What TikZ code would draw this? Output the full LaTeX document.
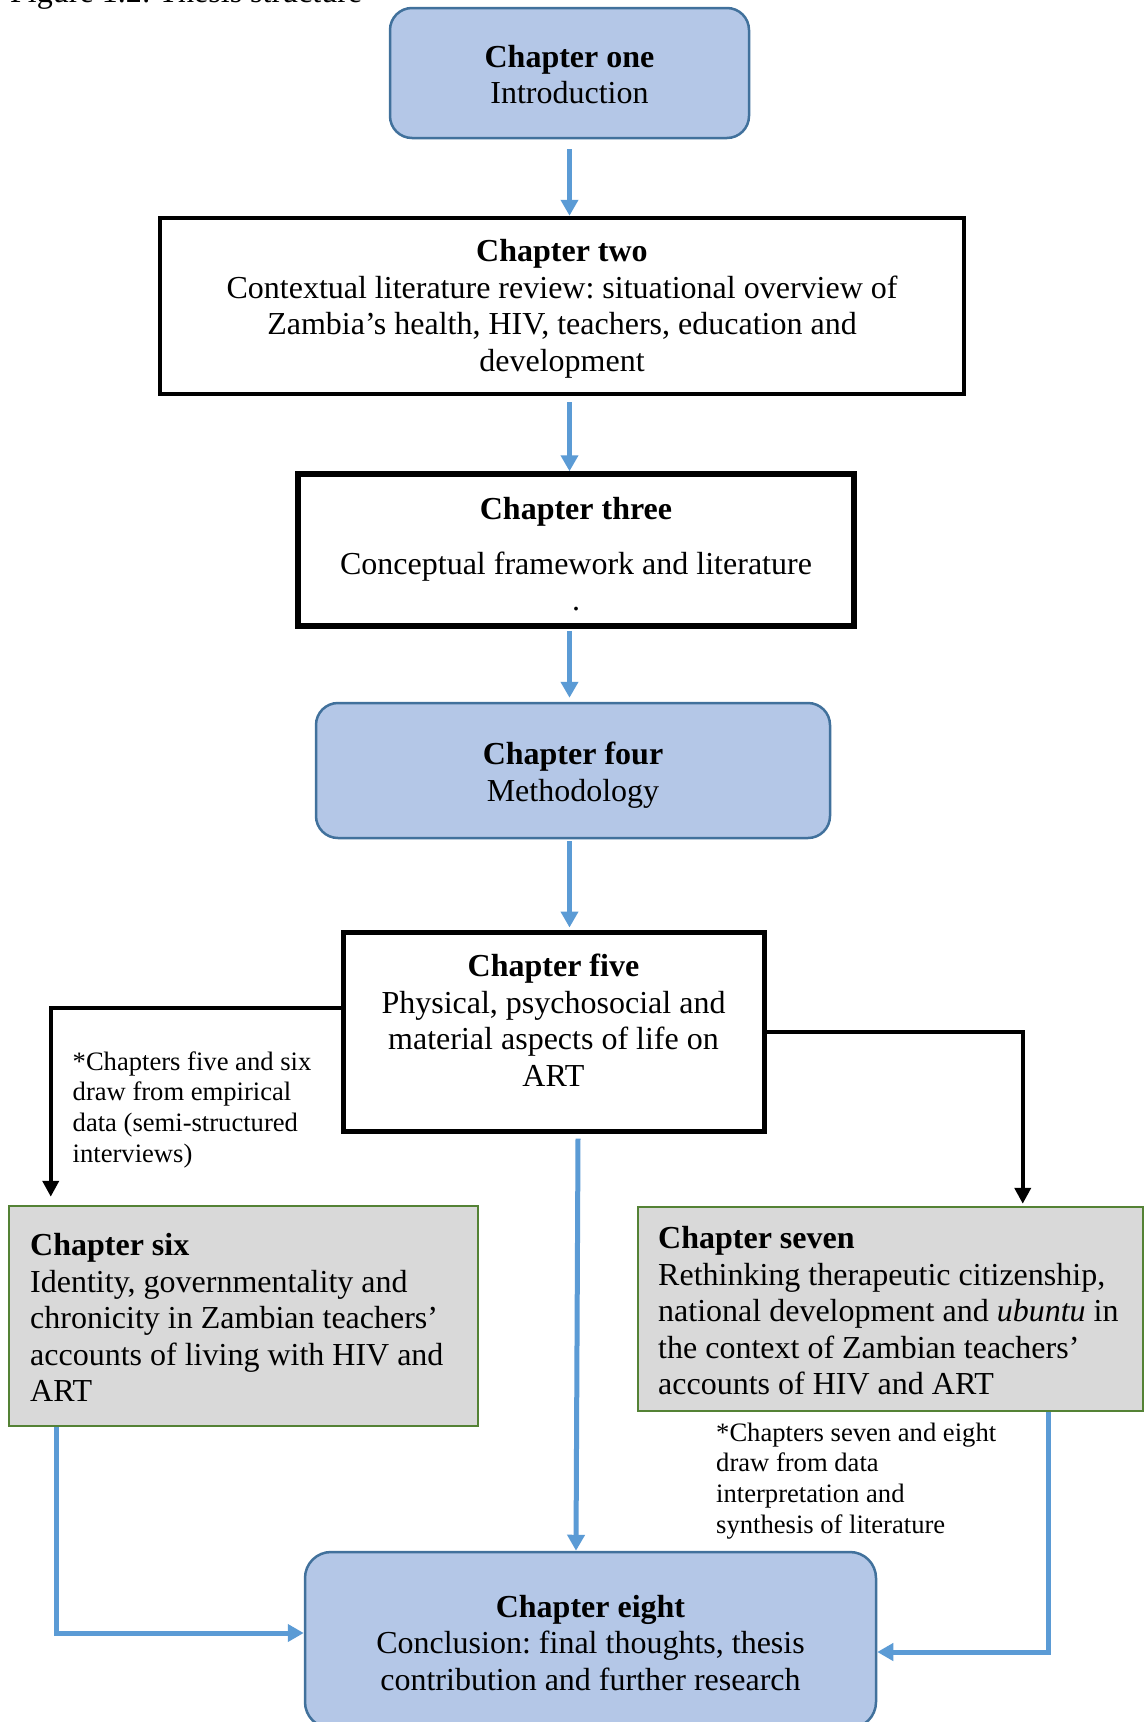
\documentclass[tikz,border=0pt]{standalone}
\usepackage{fontspec}
\setmainfont{Liberation Serif}
\usetikzlibrary{arrows.meta,calc}
\definecolor{boxblue}{HTML}{B4C7E7}
\definecolor{boxblueline}{HTML}{41719C}
\definecolor{arrowblue}{HTML}{5B9BD5}
\definecolor{boxgrey}{HTML}{D9D9D9}
\definecolor{boxgreen}{HTML}{548235}
\newcommand\chfont{\fontsize{32}{36.5}\selectfont}
\newcommand\notefont{\fontsize{26.6}{30.6}\selectfont}
\frenchspacing
\tikzset{
  roundbox/.style={draw=boxblueline, fill=boxblue, line width=2.5pt, rounded corners=22pt, inner sep=0pt},
  blackbox/.style={draw=black, fill=white, line width=5pt, inner sep=0pt},
  greybox/.style={draw=boxgreen, fill=boxgrey, line width=2.5pt, inner sep=0pt},
  ctext/.style={inner sep=0pt, anchor=north, align=center, font=\chfont},
  ltext/.style={inner sep=0pt, anchor=north west, align=left, font=\chfont},
  ntext/.style={inner sep=0pt, anchor=north west, align=left, font=\notefont},
  barrow/.style={draw=arrowblue, line width=5pt, -{Triangle[length=16pt,width=17pt]}},
  karrow/.style={draw=black, line width=4pt, -{Triangle[length=16pt,width=16pt]}},
}
\begin{document}
\begin{tikzpicture}[x=1pt,y=-1pt]
\useasboundingbox[fill=white] (0,0) rectangle (1144,1722);

% title (cut off at the top edge)
\node[anchor=base west, inner sep=0pt, font=\chfont] (title) at (10,2) {Figure 1.2: Thesis structure};

% boxes
\node[roundbox, minimum width=359pt, minimum height=130pt] (c1) at (569.5,73) {};
\node[blackbox, line width=4.5pt, minimum width=804pt, minimum height=176pt] (c2) at (562,306) {};
\node[blackbox, line width=5.5pt, minimum width=556pt, minimum height=152pt] (c3) at (576,550) {};
\node[roundbox, minimum width=514pt, minimum height=135pt] (c4) at (573,770.5) {};
\node[blackbox, minimum width=421pt, minimum height=199pt] (c5) at (553.5,1031.5) {};
\node[greybox, minimum width=469pt, minimum height=220pt] (c6) at (243.5,1316) {};
\node[greybox, minimum width=505pt, minimum height=204pt] (c7) at (890.5,1309) {};
\node[roundbox, rounded corners=26pt, minimum width=571pt, minimum height=176pt] (c8) at (590.5,1640) {};

% texts
\node[ctext] (t1) at (569.5,41.5) {\strut\textbf{Chapter one}\\Introduction};
\node[ctext] (t2) at (562,236) {\strut\textbf{Chapter two}\\Contextual literature review: situational overview of\\Zambia’s health, HIV, teachers, education and\\development};
\node[ctext] (t3) at (576,494) {\strut\textbf{Chapter three}\\[18pt]Conceptual framework and literature\\.};
\node[ctext] (t4) at (573,739) {\strut\textbf{Chapter four}\\Methodology};
\node[ctext] (t5) at (553.5,951) {\strut\textbf{Chapter five}\\Physical, psychosocial and\\material aspects of life on\\ART};
\node[ltext] (t6) at (30,1230) {\strut\textbf{Chapter six}\\Identity, governmentality and\\chronicity in Zambian teachers’\\accounts of living with HIV and\\ART};
\node[ltext] (t7) at (658,1223) {\strut\textbf{Chapter seven}\\Rethinking therapeutic citizenship,\\national development and \emph{ubuntu} in\\the context of Zambian teachers’\\accounts of HIV and ART};
\node[ctext] (t8) at (590.5,1591.5) {\strut\textbf{Chapter eight}\\Conclusion: final thoughts, thesis\\contribution and further research};

% notes
\node[ntext] (n1) at (72.5,1048.6) {\strut*Chapters five and six\\draw from empirical\\data (semi-structured\\interviews)};
\node[ntext] (n2) at (716,1419.6) {\strut*Chapters seven and eight\\draw from data\\interpretation and\\synthesis of literature};

% blue connectors
\draw[barrow, shorten <=10pt] (c1.south) -- (c1.south |- c2.north);
\draw[barrow, shorten <=6pt] (c2.south -| c1.south) -- (c1.south |- c3.north);
\draw[barrow, shorten <=2pt, shorten >=4pt] (c3.south -| c1.south) -- (c1.south |- c4.north);
\draw[barrow, shorten <=2pt, shorten >=2pt] (c4.south -| c1.south) -- (c1.south |- c5.north);
\draw[barrow] ($(c5.south)+(24.5,5)$) -- ($(c8.north)+(-14.5,0)$);
\draw[barrow] ($(c6.south west)+(49,0)$) |- ($(c8.west)+(0,-7)$);
\draw[barrow] ($(c7.south east)+(-96,0)$) |- ($(c8.east)+(0,12)$);

% black connectors
\draw[karrow] ($(c5.west)+(0,-23.5)$) -| ($(c6.north west)+(43,-8)$);
\draw[karrow] (c5.east) -| ($(c7.north west)+(386,-2)$);
\end{tikzpicture}
\end{document}
